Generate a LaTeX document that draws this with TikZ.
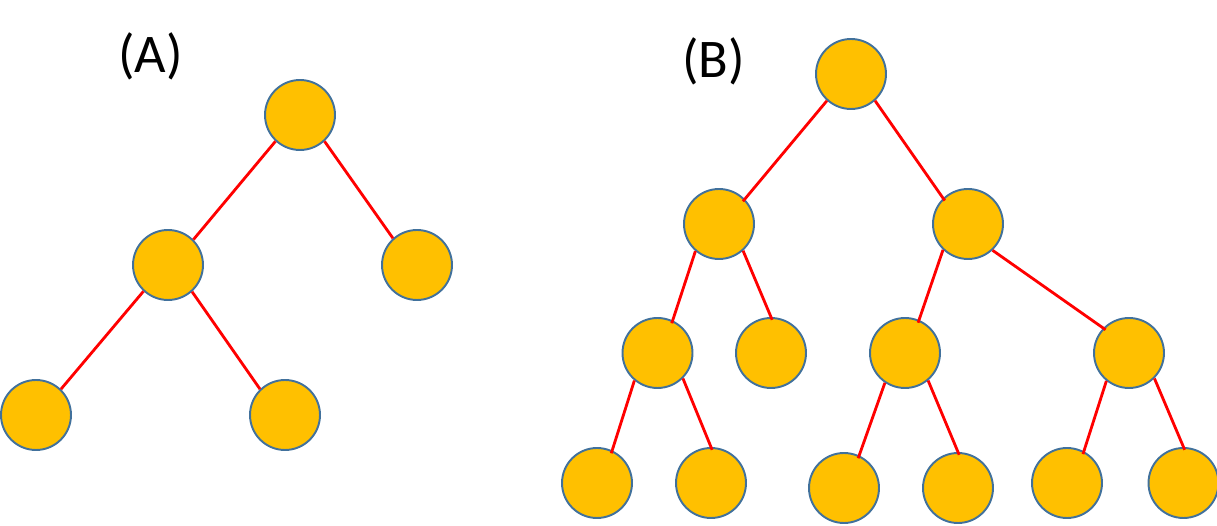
\documentclass[tikz,border=0pt]{standalone}
\usepackage{fontspec}
\setmainfont{Carlito}
\definecolor{nodofill}{HTML}{FFC000}
\definecolor{nodoborde}{HTML}{41719C}
\definecolor{arista}{HTML}{FF0000}
\begin{document}
\begin{tikzpicture}[x=0.02cm,y=-0.02cm,
  vert/.style={circle,fill=nodofill,draw=nodoborde,line width=1.1pt,inner sep=0pt,minimum size=1.4cm},
  arist/.style={draw=arista,line width=1.6pt},
  titulo/.style={font=\fontsize{31}{36}\selectfont}]
  \useasboundingbox (0,0) rectangle (1217,526);

  % Vértices (A)
  \node[vert] (a1) at (300, 115) {};
  \node[vert] (a2) at (168, 265) {};
  \node[vert] (a3) at (417, 265) {};
  \node[vert] (a4) at (36, 415) {};
  \node[vert] (a5) at (285, 415) {};

  % Aristas (A)
  \foreach \from/\to in {a1.227/a2.45, a1.313/a3.132, a2.227/a4.46, a2.312/a5.134}
    \draw[arist] (\from) -- (\to);

  % Vértices (B)
  \node[vert] (b1) at (851, 74) {};
  \node[vert] (b2) at (719, 224) {};
  \node[vert] (b3) at (968, 224) {};
  \node[vert] (b4) at (657.5, 353) {};
  \node[vert] (b5) at (771, 353) {};
  \node[vert] (b6) at (905, 353) {};
  \node[vert] (b7) at (1129, 353) {};
  \node[vert] (b8) at (597, 483) {};
  \node[vert] (b9) at (711, 483) {};
  \node[vert] (b10) at (844, 488) {};
  \node[vert] (b11) at (958, 488) {};
  \node[vert] (b12) at (1067, 483) {};
  \node[vert] (b13) at (1183.5, 483) {};

  % Aristas (B)
  \foreach \from/\to in {b1.228/b2.44, b1.312/b3.134, b2.229/b4.65, b2.312/b5.90,
                         b3.226/b6.67, b3.313/b7.136, b4.230/b8.65, b4.315/b9.90,
                         b6.236/b10.65, b6.310/b11.90, b7.231/b12.62, b7.315/b13.90}
    \draw[arist, shorten >=-0.06cm] (\from) -- (\to);

  % Títulos
  \node[titulo] (ta) at (150.5, 56) {(A)};
  \node[titulo] (tb) at (713.5, 61) {(B)};
\end{tikzpicture}
\end{document}
